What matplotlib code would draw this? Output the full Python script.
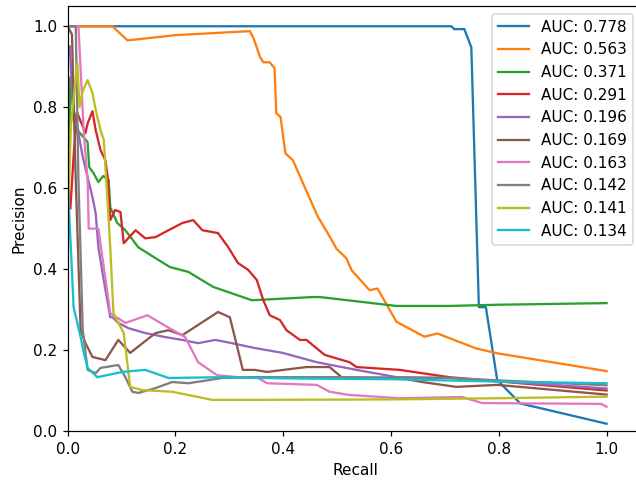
import matplotlib
matplotlib.use("Agg")
import matplotlib.pyplot as plt

# Data
aucs = [0.778, 0.563, 0.371, 0.291, 0.196, 0.169, 0.163, 0.142, 0.141, 0.134]

r0 = [0.0, 0.712, 0.717, 0.736, 0.749, 0.763, 0.776, 0.797, 0.84, 1.0]
p0 = [1.0, 1.0, 0.993, 0.993, 0.948, 0.306, 0.306, 0.126, 0.068, 0.018]

r1 = [0.0, 0.083, 0.111, 0.2, 0.338, 0.345, 0.357, 0.363, 0.375, 0.384, 0.387, 0.395, 0.404,
      0.418, 0.434, 0.464, 0.482, 0.499, 0.517, 0.527, 0.56, 0.575, 0.61, 0.621, 0.662,
      0.686, 0.758, 0.797, 1.0]
p1 = [1.0, 1.0, 0.965, 0.978, 0.988, 0.97, 0.924, 0.911, 0.911, 0.896, 0.785, 0.776, 0.686,
      0.669, 0.62, 0.53, 0.49, 0.45, 0.427, 0.397, 0.348, 0.352, 0.27, 0.262, 0.233,
      0.241, 0.204, 0.192, 0.148]

r2 = [0.0, 0.005, 0.01, 0.02, 0.037, 0.04, 0.048, 0.057, 0.066, 0.076, 0.079, 0.092, 0.107,
      0.131, 0.163, 0.19, 0.224, 0.27, 0.342, 0.455, 0.468, 0.61, 0.708, 0.8, 1.0]
p2 = [0.5, 0.874, 0.8, 0.74, 0.714, 0.652, 0.637, 0.615, 0.63, 0.62, 0.553, 0.514, 0.496,
      0.454, 0.427, 0.405, 0.393, 0.356, 0.323, 0.331, 0.331, 0.309, 0.309, 0.312, 0.316]

r3 = [0.005, 0.012, 0.018, 0.033, 0.037, 0.046, 0.052, 0.061, 0.07, 0.075, 0.079, 0.088,
      0.098, 0.104, 0.126, 0.144, 0.163, 0.187, 0.213, 0.233, 0.25, 0.279, 0.298, 0.316,
      0.335, 0.351, 0.363, 0.375, 0.394, 0.406, 0.431, 0.443, 0.477, 0.523, 0.536, 0.616,
      0.708, 0.769, 1.0]
p3 = [0.55, 0.7, 0.785, 0.736, 0.76, 0.79, 0.743, 0.694, 0.669, 0.62, 0.521, 0.546,
      0.541, 0.464, 0.496, 0.476, 0.479, 0.496, 0.514, 0.521, 0.496, 0.489, 0.454, 0.415,
      0.398, 0.373, 0.323, 0.286, 0.274, 0.249, 0.225, 0.225, 0.188, 0.17, 0.158, 0.151,
      0.133, 0.126, 0.1]

r4 = [0.004, 0.011, 0.018, 0.028, 0.037, 0.046, 0.052, 0.057, 0.066, 0.079, 0.083, 0.094,
      0.113, 0.144, 0.181, 0.213, 0.242, 0.274, 0.305, 0.347, 0.399, 0.462, 0.536, 0.61,
      0.708, 1.0]
p4 = [0.95, 0.768, 0.75, 0.677, 0.627, 0.578, 0.538, 0.454, 0.38, 0.281, 0.281, 0.267,
      0.254, 0.242, 0.232, 0.225, 0.217, 0.225, 0.217, 0.205, 0.193, 0.17, 0.151, 0.133,
      0.131, 0.105]

r5 = [0.0, 0.008, 0.015, 0.024, 0.033, 0.046, 0.07, 0.094, 0.116, 0.163, 0.187, 0.213,
      0.279, 0.301, 0.325, 0.347, 0.37, 0.443, 0.486, 0.51, 0.616, 0.658, 0.721, 0.797, 1.0]
p5 = [1.0, 0.98, 0.62, 0.249, 0.217, 0.183, 0.175, 0.225, 0.193, 0.242, 0.249, 0.237,
      0.294, 0.281, 0.151, 0.151, 0.146, 0.158, 0.158, 0.131, 0.131, 0.121, 0.109, 0.114, 0.09]

r6 = [0.015, 0.02, 0.03, 0.037, 0.039, 0.057, 0.079, 0.107, 0.148, 0.185, 0.218, 0.242,
      0.277, 0.316, 0.351, 0.37, 0.462, 0.486, 0.523, 0.616, 0.732, 0.769, 0.99, 1.0]
p6 = [1.0, 1.0, 0.736, 0.62, 0.5, 0.5, 0.291, 0.267, 0.286, 0.257, 0.232, 0.17,
      0.138, 0.133, 0.133, 0.118, 0.114, 0.097, 0.089, 0.081, 0.084, 0.069, 0.067, 0.06]

r7 = [0.0, 0.015, 0.02, 0.028, 0.037, 0.052, 0.061, 0.094, 0.107, 0.12, 0.131, 0.163,
      0.194, 0.224, 0.287, 0.347, 0.523, 0.708, 0.8, 1.0]
p7 = [1.0, 1.0, 0.62, 0.249, 0.151, 0.143, 0.156, 0.163, 0.133, 0.097, 0.094, 0.106,
      0.121, 0.118, 0.131, 0.133, 0.133, 0.131, 0.125, 0.113]

r8 = [0.0, 0.006, 0.018, 0.022, 0.028, 0.037, 0.046, 0.052, 0.061, 0.067, 0.074, 0.079,
      0.085, 0.104, 0.116, 0.139, 0.194, 0.268, 0.347, 0.6, 0.8, 1.0]
p8 = [0.5, 0.756, 0.908, 0.8, 0.84, 0.867, 0.835, 0.793, 0.743, 0.719, 0.57, 0.454,
      0.291, 0.242, 0.109, 0.101, 0.097, 0.077, 0.077, 0.078, 0.081, 0.085]

r9 = [0.0, 0.006, 0.011, 0.024, 0.03, 0.037, 0.055, 0.102, 0.144, 0.187, 0.287, 0.4,
      0.6, 0.8, 1.0]
p9 = [0.607, 0.45, 0.306, 0.232, 0.193, 0.156, 0.133, 0.146, 0.151, 0.131, 0.133, 0.13,
      0.128, 0.122, 0.118]

recalls = [r0, r1, r2, r3, r4, r5, r6, r7, r8, r9]
precisions = [p0, p1, p2, p3, p4, p5, p6, p7, p8, p9]

# the reference looks like a default figure rendered a bit larger, right edge cropped
fig = plt.figure(figsize=(636 / 110, 482 / 110), dpi=110)
ax = fig.add_axes([0.1064, 0.1058, 0.905, 0.8817])

for r, p, a in zip(recalls, precisions, aucs):
    ax.plot(r, p, label='AUC: %.3f' % a)

ax.set_xlim(0, 1.068)
ax.set_ylim(0, 1.05)
ax.set_xlabel('Recall')
ax.set_ylabel('Precision')
ax.legend(loc='upper right', bbox_to_anchor=(0.995, 1.0))

plt.savefig('out.png', dpi=110)
